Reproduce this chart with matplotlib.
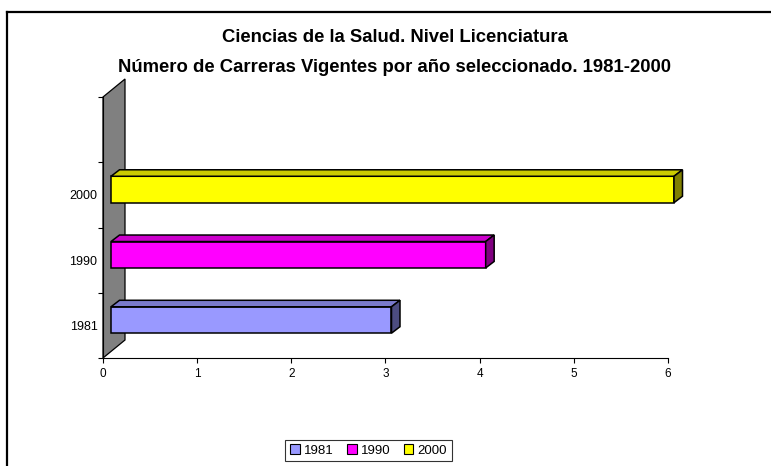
import matplotlib.pyplot as plt
from matplotlib.patches import Polygon, Patch
from matplotlib.lines import Line2D
import numpy as np

plt.rcParams["font.family"] = ["Liberation Sans", "DejaVu Sans"]

# data
years = ["1981", "1990", "2000"]
carreras = [3, 4, 6]
colores = ["#9999FF", "#FF00FF", "#FFFF00"]
colores_top = ["#7A7ACC", "#CC00CC", "#CCCC00"]
colores_side = ["#4C4C80", "#800080", "#808000"]

fig = plt.figure(figsize=(7.71, 4.66), dpi=100)
ax = fig.add_axes([103 / 771, 1 - 358 / 466, 565 / 771, 261 / 466])

ax.set_xlim(0, 6)
ax.set_ylim(0, 4)

# pixel -> data units
px_x = 6 / 565
px_y = 4 / 261

# gray wall behind bars
wdx, wdy = 22 * px_x, 18 * px_y
wall = Polygon([(0, 0), (wdx, wdy), (wdx, 4 + wdy), (0, 4)], closed=True,
               facecolor="#808080", edgecolor="black", lw=0.9, clip_on=False, zorder=1)
ax.add_patch(wall)

# 3d bars
bdx, bdy = 8.5 * px_x, 6.5 * px_y
x0 = 8 * px_x
for i, (v, c, ct, cs) in enumerate(zip(carreras, colores, colores_top, colores_side)):
    y0 = i + 0.38
    y1 = i + 0.785
    x1 = v + 6 * px_x
    front = Polygon([(x0, y0), (x1, y0), (x1, y1), (x0, y1)], closed=True,
                    facecolor=c, edgecolor="black", lw=1.1, zorder=3)
    top = Polygon([(x0, y1), (x1, y1), (x1 + bdx, y1 + bdy), (x0 + bdx, y1 + bdy)],
                  closed=True, facecolor=ct, edgecolor="black", lw=1.1, zorder=3)
    side = Polygon([(x1, y0), (x1 + bdx, y0 + bdy), (x1 + bdx, y1 + bdy), (x1, y1)],
                   closed=True, facecolor=cs, edgecolor="black", lw=1.1, zorder=3)
    for p in (front, top, side):
        p.set_clip_on(False)
        ax.add_patch(p)

ax.spines["top"].set_visible(False)
ax.spines["right"].set_visible(False)
ax.spines["left"].set_zorder(2)
ax.spines["bottom"].set_zorder(4)

ax.set_xticks(range(0, 7))
ax.set_yticks(range(0, 5))
ax.set_yticklabels([])
ax.set_yticks(np.arange(len(years)) + 0.5, minor=True)
ax.set_yticklabels(years, minor=True)
ax.tick_params(axis="y", which="minor", length=0, pad=4, labelsize=9)
ax.tick_params(axis="y", which="major", length=3.5, direction="out")
ax.tick_params(axis="x", length=3.5, direction="out", labelsize=8.5, pad=4)

fig.text(395 / 771, 1 - 38 / 466, "Ciencias de la Salud. Nivel Licenciatura",
         ha="center", va="center", fontsize=13.3, fontweight="bold")
fig.text(395 / 771, 1 - 67 / 466, "Número de Carreras Vigentes por año seleccionado. 1981-2000",
         ha="center", va="center", fontsize=13.3, fontweight="bold")

handles = [Patch(facecolor=c, edgecolor="black", lw=0.8) for c in colores]
leg = fig.legend(handles, years, loc="center", bbox_to_anchor=(368.5 / 771, 1 - 450.5 / 466),
                 ncol=3, fontsize=9.5, frameon=True, fancybox=False, handlelength=0.75,
                 handleheight=0.75, handletextpad=0.3, columnspacing=1.0, borderpad=0.35)
leg.get_frame().set_edgecolor("black")
leg.get_frame().set_linewidth(0.8)

# outer chart frame (top and left edges visible)
fig.add_artist(Line2D([7 / 771, 7 / 771], [0, 1 - 12 / 466], color="black", lw=1.6))
fig.add_artist(Line2D([7 / 771, 1], [1 - 12 / 466, 1 - 12 / 466], color="black", lw=1.6))

fig.savefig("out.png", dpi=100)
